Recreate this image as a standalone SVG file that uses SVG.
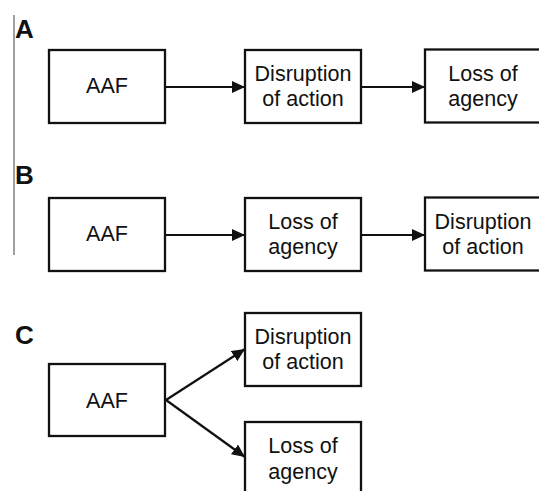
<svg xmlns="http://www.w3.org/2000/svg" width="539" height="491" viewBox="0 0 539 491">
<style>
.box{fill:#fff;stroke:#111;stroke-width:2.3}
.t{font-family:"Liberation Sans",Arial,sans-serif;font-size:21.5px;fill:#111;text-anchor:middle}
.lbl{font-family:"Liberation Sans",Arial,sans-serif;font-size:26px;font-weight:bold;fill:#111}
.c{stroke:#111;stroke-width:2.2;fill:none;marker-end:url(#ah)}
</style>
<defs>
<marker id="ah" markerUnits="userSpaceOnUse" markerWidth="13" markerHeight="12" viewBox="0 0 13 12" refX="13" refY="6" orient="auto">
<path d="M0,0 L13,6 L0,12 z" fill="#111"/>
</marker>
</defs>
<rect width="539" height="491" fill="#fff"/>
<line x1="14" y1="15" x2="14" y2="255" stroke="#888" stroke-width="1.6"/>
<text class="lbl" x="15" y="38">A</text>
<text class="lbl" x="15" y="184">B</text>
<text class="lbl" x="15" y="344">C</text>
<g id="connectors">
<line class="c" x1="165" y1="87" x2="245" y2="87"/>
<line class="c" x1="361" y1="87" x2="425" y2="87"/>
<line class="c" x1="165" y1="235" x2="245" y2="235"/>
<line class="c" x1="361" y1="235" x2="425" y2="235"/>
<line class="c" x1="166" y1="400" x2="245" y2="349"/>
<line class="c" x1="166" y1="400" x2="245" y2="457"/>
</g>
<g id="a-aaf"><rect class="box" x="49" y="50" width="116" height="73"/><text class="t" x="107" y="93">AAF</text></g>
<g id="a-disruption"><rect class="box" x="245" y="50" width="116" height="73"/><text class="t" x="303" y="81">Disruption</text><text class="t" x="303" y="106">of action</text></g>
<g id="a-loss"><rect class="box" x="425" y="49.5" width="116" height="73"/><text class="t" x="483" y="81">Loss of</text><text class="t" x="483" y="106">agency</text></g>
<g id="b-aaf"><rect class="box" x="49" y="198" width="116" height="73"/><text class="t" x="107" y="241">AAF</text></g>
<g id="b-loss"><rect class="box" x="245" y="198" width="116" height="73"/><text class="t" x="303" y="229">Loss of</text><text class="t" x="303" y="254">agency</text></g>
<g id="b-disruption"><rect class="box" x="425" y="197.5" width="116" height="73"/><text class="t" x="483" y="229">Disruption</text><text class="t" x="483" y="254">of action</text></g>
<g id="c-aaf"><rect class="box" x="49" y="364" width="116" height="72"/><text class="t" x="107" y="408">AAF</text></g>
<g id="c-disruption"><rect class="box" x="245" y="313" width="116" height="73"/><text class="t" x="303" y="344">Disruption</text><text class="t" x="303" y="369">of action</text></g>
<g id="c-loss"><rect class="box" x="245" y="422" width="116" height="73"/><text class="t" x="303" y="453">Loss of</text><text class="t" x="303" y="479">agency</text></g>
</svg>
